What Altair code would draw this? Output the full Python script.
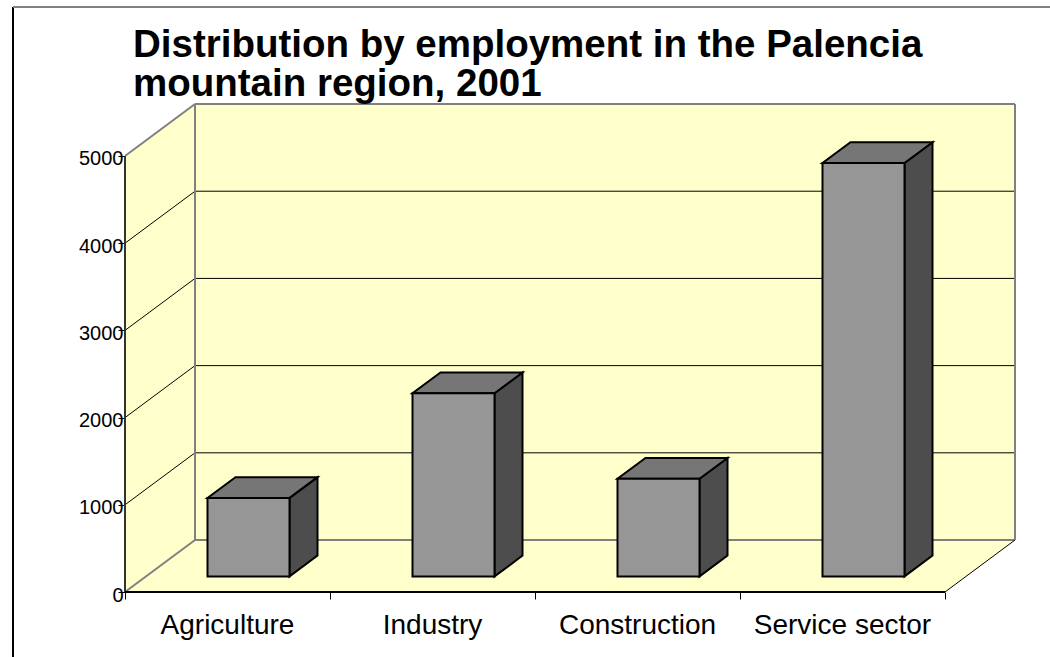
import altair as alt
import pandas as pd

# ---------------- data ----------------
categories = ["Agriculture", "Industry", "Construction", "Service sector"]
values = [900, 2100, 1120, 4740]
y_ticks = [0, 1000, 2000, 3000, 4000, 5000]
grid_values = [1000, 2000, 3000, 4000]
title_lines = ["Distribution by employment in the Palencia", "mountain region, 2001"]

# ---------------- geometry of the oblique 3-D projection ----------------
N = len(categories)
YMAX = 5000
DX = 70 / 205      # depth shift, in category units
DY = 596           # depth shift, in value units
D0, D1 = 0.3, 0.7  # depth range of the bars
B0, B1 = 0.3, 0.7  # bar span inside a category

W, H = 890, 488
xs = alt.Scale(domain=[0, N + DX], nice=False, zero=False)
ys = alt.Scale(domain=[0, YMAX + DY], nice=False, zero=False)

WALL = "#FFFFCC"
EDGE = "#808080"

x_axis = alt.Axis(values=list(range(N + 1)), labels=False, domain=False, grid=False,
                  tickSize=7, tickColor="black", tickWidth=1, orient="bottom", title=None)
y_axis = alt.Axis(values=y_ticks, domain=False, grid=False, tickSize=7, tickWidth=1,
                  tickColor="black", labelFontSize=20, labelFont="Liberation Sans",
                  labelColor="black", labelPadding=-5, labelOffset=3, format="d",
                  orient="left", title=None)


def xq(field="x"):
    return alt.X(field + ":Q", scale=xs, axis=x_axis)


def yq(field="y"):
    return alt.Y(field + ":Q", scale=ys, axis=y_axis, stack=None)


# ---------------- walls and floor ----------------
back_wall = pd.DataFrame({"x": [DX], "x2": [N + DX], "y": [float(DY)], "y2": [YMAX + DY]})
left_wall = pd.DataFrame({"x": [0, DX], "lo": [0, DY], "hi": [YMAX, YMAX + DY]})
floor = pd.DataFrame({"x": [0, DX, N, N + DX], "lo": [0, 0, 0, DY], "hi": [0, DY, DY, DY]})

back_rect = alt.Chart(back_wall).mark_rect(fill=WALL).encode(
    x=xq(), x2=alt.X2("x2"), y=yq(), y2=alt.Y2("y2"))

left_area = alt.Chart(left_wall).mark_area(fill=WALL).encode(
    x=xq(), y=yq("lo"), y2=alt.Y2("hi"))

floor_area = alt.Chart(floor).mark_area(fill=WALL).encode(
    x=xq(), y=yq("lo"), y2=alt.Y2("hi"))

# ---------------- gridlines ----------------
grid = pd.DataFrame({
    "x":  [DX] * len(grid_values) + [0.0] * len(grid_values),
    "x2": [N + DX] * len(grid_values) + [DX] * len(grid_values),
    "y":  [v + DY for v in grid_values] + list(grid_values),
    "y2": [v + DY for v in grid_values] + [v + DY for v in grid_values],
})
grid_layer = alt.Chart(grid).mark_rule(color="black", strokeWidth=1).encode(
    x=xq(), x2=alt.X2("x2"), y=yq(), y2=alt.Y2("y2"))

# ---------------- wall edges ----------------
gray_edges = pd.DataFrame({
    "x":  [0, 0, DX, DX, N + DX, DX],
    "x2": [DX, DX, DX, N + DX, N + DX, N + DX],
    "y":  [YMAX, 0, DY, YMAX + DY, DY, DY],
    "y2": [YMAX + DY, DY, YMAX + DY, YMAX + DY, YMAX + DY, DY],
})
gray_layer = alt.Chart(gray_edges).mark_rule(color=EDGE, strokeWidth=2).encode(
    x=xq(), x2=alt.X2("x2"), y=yq(), y2=alt.Y2("y2"))

black_edges = pd.DataFrame({"x": [float(N)], "x2": [N + DX], "y": [0.0], "y2": [float(DY)]})
black_layer = alt.Chart(black_edges).mark_rule(color="black", strokeWidth=1).encode(
    x=xq(), x2=alt.X2("x2"), y=yq(), y2=alt.Y2("y2"))

# ---------------- bars ----------------
front_rows, top_rows, side_rows = [], [], []
for i, (c, v) in enumerate(zip(categories, values)):
    x0, x1 = i + B0, i + B1
    front_rows.append({"cat": c, "x": x0 + D0 * DX, "x2": x1 + D0 * DX,
                       "y": D0 * DY, "y2": v + D0 * DY})
    pts = [x0 + D0 * DX, x0 + D1 * DX, x1 + D0 * DX, x1 + D1 * DX]
    lo = [v + D0 * DY, v + D0 * DY, v + D0 * DY, v + D1 * DY]
    hi = [v + D0 * DY, v + D1 * DY, v + D1 * DY, v + D1 * DY]
    for k in range(4):
        top_rows.append({"cat": c, "x": pts[k], "lo": lo[k], "hi": hi[k]})
    side_rows.append({"cat": c, "x": x1 + D0 * DX, "lo": D0 * DY, "hi": v + D0 * DY})
    side_rows.append({"cat": c, "x": x1 + D1 * DX, "lo": D1 * DY, "hi": v + D1 * DY})

front = pd.DataFrame(front_rows)
top = pd.DataFrame(top_rows)
side = pd.DataFrame(side_rows)

side_layer = alt.Chart(side).mark_area(fill="#4D4D4D", stroke="black", strokeWidth=2).encode(
    x=xq(), y=yq("lo"), y2=alt.Y2("hi"), detail="cat:N")

top_layer = alt.Chart(top).mark_area(fill="#767676", stroke="black", strokeWidth=2).encode(
    x=xq(), y=yq("lo"), y2=alt.Y2("hi"), detail="cat:N")

front_layer = alt.Chart(front).mark_rect(fill="#969696", stroke="black", strokeWidth=2).encode(
    x=xq(), x2=alt.X2("x2"), y=yq(), y2=alt.Y2("y2"))

# ---------------- axis lines and category labels ----------------
yaxis_df = pd.DataFrame({"x": [0.0], "y": [0.0], "y2": [float(YMAX)]})
yaxis_layer = alt.Chart(yaxis_df).mark_rule(color="#333333", strokeWidth=2).encode(
    x=xq(), y=yq(), y2=alt.Y2("y2"))

xaxis_df = pd.DataFrame({"x": [0.0], "x2": [float(N)], "y": [0.0]})
xaxis_layer = alt.Chart(xaxis_df).mark_rule(color="black", strokeWidth=2).encode(
    x=xq(), x2=alt.X2("x2"), y=yq())

labels_df = pd.DataFrame({"cat": categories, "x": [i + 0.5 for i in range(N)], "y": [0.0] * N})
labels_layer = alt.Chart(labels_df).mark_text(
    font="Liberation Sans", fontSize=28, color="black", baseline="middle", align="center", dy=34
).encode(x=xq(), y=yq(), text="cat:N")

# ---------------- title (two lines) and outer frame ----------------
one = pd.DataFrame({"k": [0]})
title1 = alt.Chart(one).mark_text(
    font="Liberation Sans", fontSize=38.5, fontWeight="bold", color="black",
    align="left", baseline="alphabetic"
).encode(x=alt.value(8), y=alt.value(-47), text=alt.value(title_lines[0]))
title2 = alt.Chart(one).mark_text(
    font="Liberation Sans", fontSize=38.5, fontWeight="bold", color="black",
    align="left", baseline="alphabetic"
).encode(x=alt.value(8), y=alt.value(-8), text=alt.value(title_lines[1]))

frame_left = alt.Chart(one).mark_rule(color="black", strokeWidth=2).encode(
    x=alt.value(-112), y=alt.value(-97), y2=alt.value(H + 65))
frame_top = alt.Chart(one).mark_rule(color=EDGE, strokeWidth=2).encode(
    x=alt.value(-112), x2=alt.value(W + 35), y=alt.value(-97))

chart = alt.layer(
    back_rect, left_area, floor_area, grid_layer, gray_layer, black_layer,
    side_layer, top_layer, front_layer, yaxis_layer, xaxis_layer, labels_layer,
    title1, title2, frame_left, frame_top,
).properties(
    width=W, height=H,
    autosize=alt.AutoSizeParams(type="none"),
    padding={"left": 125, "top": 104, "right": 35, "bottom": 65},
    background="white",
).configure_view(stroke=None)

chart.save("out.html", embed_options={"renderer": "svg", "actions": False})
